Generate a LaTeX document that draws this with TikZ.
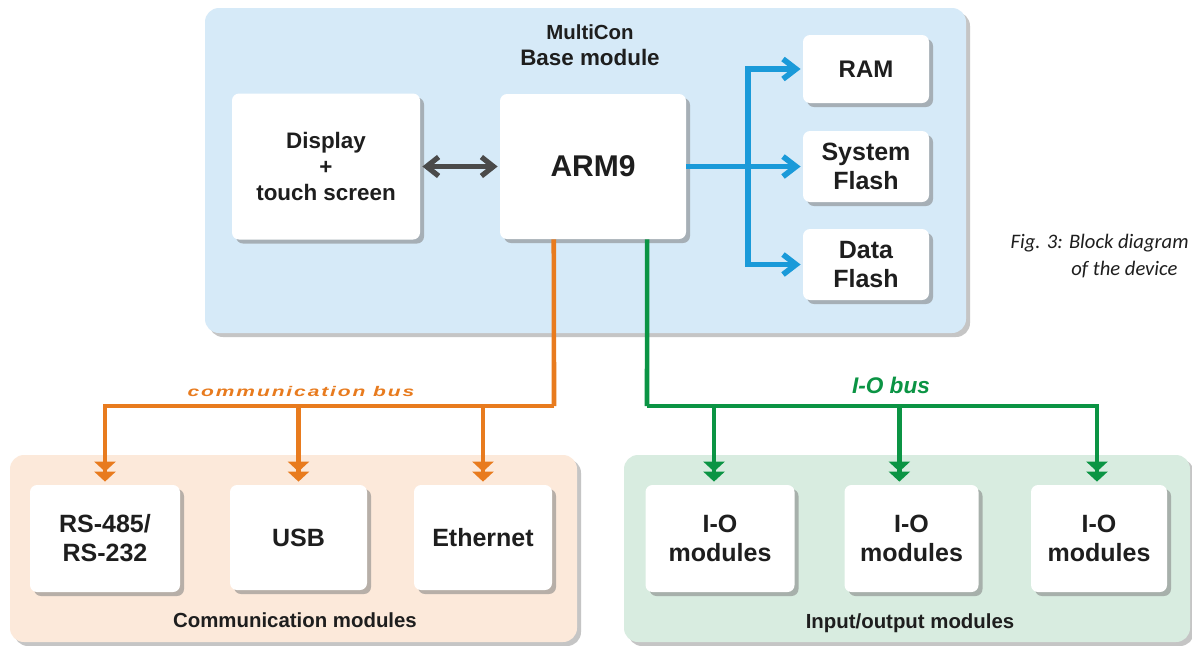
\documentclass[tikz,border=0pt]{standalone}
\usepackage{fontspec}
\setmainfont{Liberation Sans}
\newfontfamily\capfont{Carlito}
\usetikzlibrary{arrows.meta,shadows,calc}
\definecolor{basebg}{RGB}{214,234,248}
\definecolor{commbg}{RGB}{252,233,218}
\definecolor{iobg}{RGB}{216,236,224}
\definecolor{busor}{RGB}{232,123,30}
\definecolor{busgr}{RGB}{11,148,68}
\definecolor{busbl}{RGB}{26,154,217}
\definecolor{darkar}{RGB}{74,74,74}
\definecolor{txt}{RGB}{30,30,30}
\tikzset{
  panel/.style={rounded corners=7pt, inner sep=0pt, draw=none,
    drop shadow={shadow xshift=2pt, shadow yshift=-2pt, fill=black!45, opacity=0.5}},
  blk/.style={rounded corners=3.5pt, fill=white, inner sep=0pt, align=center, text=txt,
    font=\bfseries\fontsize{12.5}{14.5}\selectfont,
    drop shadow={shadow xshift=2pt, shadow yshift=-2pt, fill=black!50, opacity=0.55}},
  lbl/.style={inner sep=0pt, anchor=base, text=txt, font=\bfseries\fontsize{10.2}{12}\selectfont},
  bluebus/.style={draw=busbl, line width=2.8pt},
  bluearr/.style={bluebus, -{Straight Barb[length=6.5pt,width=10pt]}, shorten >=1pt},
  obus/.style={draw=busor, line width=2.3pt, line join=miter},
  gbus/.style={draw=busgr, line width=2.3pt, line join=miter},
  dtip/.style={-{Triangle[width=10.5pt,length=5pt]Triangle[width=10.5pt,length=5pt]}, shorten >=1.5pt}
}
\begin{document}
\begin{tikzpicture}[x=0.5pt,y=-0.5pt]
\useasboundingbox (0,0) rectangle (1192,645);
\fill[white] (0,0) rectangle (1192,645);

% panels
\node[panel, fill=basebg, minimum width=380.5pt, minimum height=162.5pt] (base) at (585.5,170.5) {};
\node[panel, fill=commbg, minimum width=283.5pt, minimum height=93.5pt] (comm) at (293.5,548.5) {};
\node[panel, fill=iobg, minimum width=283pt, minimum height=93.5pt] (iop) at (907,548.5) {};

\node[lbl] (t1) at (590,39) {MultiCon};
\node[lbl, font=\bfseries\fontsize{11.2}{13}\selectfont] (t2) at (590,65) {Base module};
\node[lbl, font=\bfseries\fontsize{10.2}{12}\selectfont] (t3) at (295,627) {Communication modules};
\node[lbl, font=\bfseries\fontsize{10.2}{12}\selectfont] (t4) at (910,628) {Input/output modules};

% blocks
\node[blk, font=\bfseries\fontsize{11.2}{12.8}\selectfont, minimum width=94pt, minimum height=73pt] (disp) at (326,166.5) {Display\\+\\touch screen};
\node[blk, font=\bfseries\fontsize{15}{17}\selectfont, minimum width=93pt, minimum height=72.5pt] (arm) at (593,166.5) {ARM9};
\node[blk, font=\bfseries\fontsize{12}{14.5}\selectfont, minimum width=63pt, minimum height=34pt] (ram) at (866,69) {RAM};
\node[blk, minimum width=63pt, minimum height=35.5pt] (sflash) at (866,166.5) {System\\Flash};
\node[blk, minimum width=63pt, minimum height=35.5pt] (dflash) at (866,264.5) {Data\\Flash};

\node[blk, minimum width=75pt, minimum height=53.5pt] (rs) at (105,538.5) {RS-485/\\RS-232};
\node[blk, minimum width=68.5pt, minimum height=52.5pt] (usb) at (298.5,537.5) {USB};
\node[blk, minimum width=69pt, minimum height=52.5pt] (eth) at (483,537.5) {Ethernet};
\node[blk, minimum width=74.5pt, minimum height=53.5pt] (io1) at (720,538.5) {I-O\\modules};
\node[blk, minimum width=67pt, minimum height=53.5pt] (io2) at (911.5,538.5) {I-O\\modules};
\node[blk, minimum width=68pt, minimum height=53.5pt] (io3) at (1099,538.5) {I-O\\modules};

% display <-> ARM9
\draw[draw=darkar, line width=2.6pt, {Straight Barb[length=6pt,width=9.5pt]}-{Straight Barb[length=6pt,width=9.5pt]}, shorten >=1pt, shorten <=1pt] (disp.east) -- (arm.west);

% memory bus
\coordinate (bsplit) at (748,166.5);
\draw[bluebus] (arm.east) -- (bsplit);
\draw[bluearr] (bsplit) |- (ram.west);
\draw[bluearr] (bsplit) -- (sflash.west);
\draw[bluearr] (bsplit) |- (dflash.west);

% communication bus
\coordinate (ob) at (554,406);
\draw[obus] ($(arm.south west)!0.29!(arm.south east)$) -- (ob);
\draw[obus, dtip] (ob) -| (rs.north);
\draw[obus, dtip] (ob) -| (usb.north);
\draw[obus, dtip] (ob) -| (eth.north);
\node[inner sep=0pt, anchor=base, text=busor, font=\bfseries\itshape\fontsize{7}{8}\selectfont] (cbus) at (301,396) {\scalebox{1.5}[1]{\addfontfeature{LetterSpace=9}communication bus}};

% I-O bus
\coordinate (gb) at (647,406);
\draw[gbus] ($(arm.south west)!0.79!(arm.south east)$) -- (gb);
\draw[gbus, dtip] (gb) -| ($(io1.north west)!0.46!(io1.north east)$);
\draw[gbus, dtip] (gb) -| ($(io2.north west)!0.41!(io2.north east)$);
\draw[gbus, dtip] (gb) -| ($(io3.north west)!0.485!(io3.north east)$);
\node[inner sep=0pt, anchor=base, text=busgr, font=\bfseries\itshape\fontsize{11.3}{13}\selectfont] (gbl) at (891,393) {I-O bus};

% caption
\node[inner sep=0pt, anchor=base east, text=txt, font=\capfont\itshape\fontsize{10.3}{12}\selectfont] (cap1) at (1189,248) {Fig. 3: Block diagram};
\node[inner sep=0pt, anchor=base west, text=txt, font=\capfont\itshape\fontsize{10.3}{12}\selectfont] (cap2) at (1071,275) {of the device};
\end{tikzpicture}
\end{document}
